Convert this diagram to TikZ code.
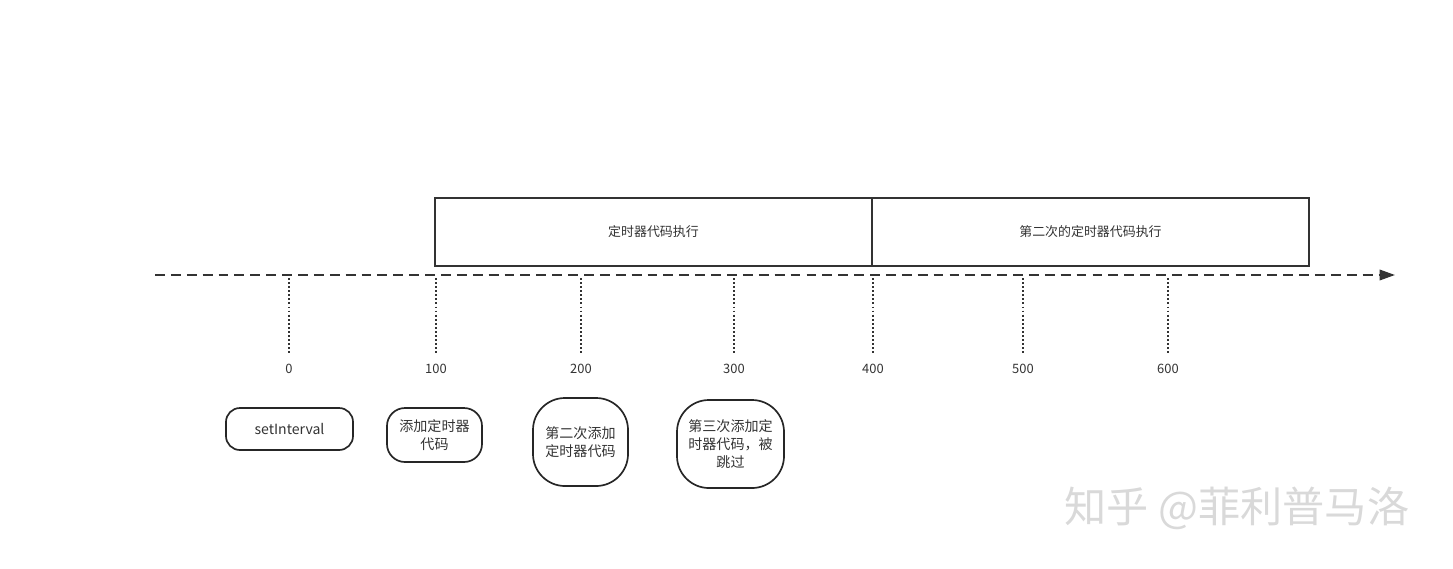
\documentclass[tikz,border=0pt]{standalone}
\usepackage{fontspec}
\setmainfont{Noto Sans CJK SC}
\usetikzlibrary{arrows.meta,shadows}

\tikzset{
	execbox/.style={draw=black!80, fill=white, line width=1.3pt, minimum width=10.925cm, minimum height=1.7cm, drop shadow={shadow xshift=0.7pt, shadow yshift=-0.7pt, opacity=0.25}},
	eventbox/.style={draw=black!85, line width=1.2pt, align=center, inner sep=0pt, font=\fontsize{10}{13}\selectfont},
	tickline/.style={draw=black!80, line width=1.1pt, dash pattern=on 1.3pt off 1.6pt},
}

\begin{document}
\begin{tikzpicture}[x=0.025cm, y=-0.025cm, every node/.style={text=black!80, font=\fontsize{9.2}{11}\selectfont}]
		\useasboundingbox (0,0) rectangle (1453,568);
		\coordinate (start) at (155,275);
		\coordinate (end) at (1395,275);
		\path[draw=black!80, line width=1.4pt, dash pattern=on 7pt off 4.3pt, -{Triangle[length=11pt, width=7.5pt]}] (start) -- (end);
		\node[execbox] (exec1) at (653.5,232) {定时器代码执行};
		\node[execbox] (exec2) at (1090.5,232) {第二次的定时器代码执行};
		\foreach \x/\v in {289/0,436/100,581/200,734/300,873/400,1023/500,1168/600} {
			\coordinate (t\v) at (\x,278);
			\node (lab\v) at (\x,369) {\v};
			\path[tickline, shorten >=4pt] (t\v) -- (lab\v.north);
		}
		\node[eventbox, minimum width=3.175cm, minimum height=1.05cm, rounded corners=0.35cm] (setint) at (289.5,429) {setInterval};
		\node[eventbox, minimum width=2.375cm, minimum height=1.35cm, rounded corners=0.45cm] (add1) at (434.5,435) {添加定时器\\代码};
		\node[eventbox, minimum width=2.375cm, minimum height=2.2cm, rounded corners=0.8cm] (add2) at (580.5,442) {第二次添加\\定时器代码};
		\node[eventbox, minimum width=2.675cm, minimum height=2.2cm, rounded corners=0.8cm] (add3) at (730.5,444) {第三次添加定\\时器代码，被\\跳过};
		\node[text=gray!30, font=\fontsize{30}{30}\selectfont] (mark) at (1237,508) {知乎 @菲利普马洛};
	\end{tikzpicture}
\end{document}
